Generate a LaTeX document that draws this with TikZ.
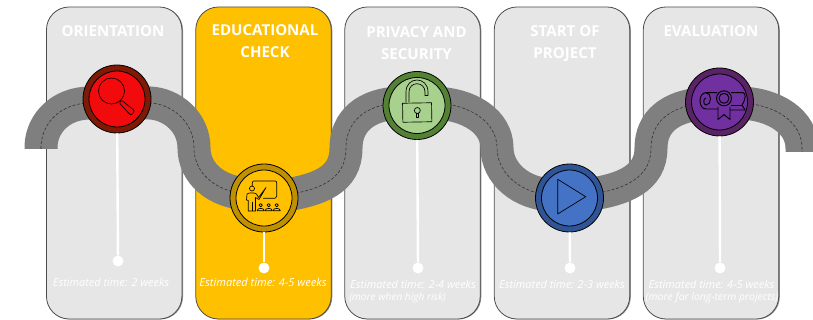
\documentclass[tikz,border=0pt]{standalone}
\usepackage{fontspec}
\setmainfont{Open Sans}
\usetikzlibrary{shadows}
\definecolor{panelgray}{HTML}{E6E6E6}
\definecolor{panelyellow}{HTML}{FFC000}
\definecolor{roadgray}{HTML}{7F7F7F}
\definecolor{ringred}{HTML}{7F1A06}
\definecolor{fillred}{HTML}{F20A0C}
\definecolor{ringyellow}{HTML}{BF9000}
\definecolor{ringgreen}{HTML}{548235}
\definecolor{fillgreen}{HTML}{A9D18E}
\definecolor{ringblue}{HTML}{2F5597}
\definecolor{fillblue}{HTML}{4472C4}
\definecolor{ringpurple}{HTML}{5A2366}
\definecolor{fillpurple}{HTML}{7030A0}
\tikzset{
  panel/.style={rectangle,rounded corners=17pt,minimum width=101.6pt,minimum height=234pt,inner sep=0pt,
    draw=black!70,line width=.6pt,general shadow={fill=black!45,shadow xshift=.8pt,shadow yshift=-.3pt}},
  ring/.style={circle,minimum size=51pt,inner sep=0pt,draw=black,line width=.6pt},
  core/.style={circle,minimum size=42pt,inner sep=0pt,draw=black,line width=.6pt},
  stemdot/.style={circle,fill=white,minimum size=8.2pt,inner sep=0pt},
  stem/.style={draw=white,line width=1.8pt},
  title/.style={text=white,font=\bfseries\fontsize{11.3}{16.4}\selectfont,align=center,inner sep=0pt},
  est/.style={text=white,font=\itshape\fontsize{8.2}{10.5}\selectfont,inner sep=0pt},
  road/.style={draw=roadgray,line width=24.75pt},
  lane/.style={draw=black!80,line width=.45pt,dash pattern=on 2.2pt off 1.4pt},
  icon/.style={draw=black,line width=.5pt,line join=round},
}
\def\roadpath{(41,149) -- (41,146) .. controls (42,122) and (62,103) .. (90,103) -- (150,103)
  .. controls (172,104) and (194,122) .. (194,148)
  .. controls (194,172) and (215,193) .. (250,194) -- (280,196)
  .. controls (320,190) and (346,180) .. (346,148)
  .. controls (346,122) and (365,104) .. (400,103) -- (434,103)
  .. controls (470,104) and (497,122) .. (497,148)
  .. controls (497,172) and (520,195) .. (555,195) -- (585,195)
  .. controls (625,190) and (651,178) .. (651,148)
  .. controls (651,122) and (670,107) .. (700,104) -- (740,103)
  .. controls (775,104) and (802,122) .. (802,148) -- (802,152)}
\begin{document}
\begin{tikzpicture}[x=.75pt,y=-.75pt]
\useasboundingbox (0,0) rectangle (813,320);
\clip (0,0) rectangle (813,320);
% panels
\node[panel,fill=panelgray] (p1) at (114.2,163) {};
\node[panel,fill=panelyellow] (p2) at (263.5,163) {};
\node[panel,fill=panelgray] (p3) at (412.5,163) {};
\node[panel,fill=panelgray] (p4) at (562,163) {};
\node[panel,fill=panelgray] (p5) at (711,163) {};
% titles
\node[title] (t1) at (113,31) {ORIENTATION};
\node[title] (t2) at (265,41) {EDUCATIONAL\\CHECK};
\node[title] (t3) at (416.5,43) {PRIVACY AND\\SECURITY};
\node[title] (t4) at (565,44) {START OF\\PROJECT};
\node[title] (t5) at (711,31) {EVALUATION};
% road
\draw[road] \roadpath;
\draw[lane] \roadpath;
% circles
\node[ring,fill=ringred] (c1) at (117,99) {};
\node[core,fill=fillred] (i1) at (117,99) {};
\node[ring,fill=ringyellow] (c2) at (264,198) {};
\node[core,fill=panelyellow] (i2) at (264,198) {};
\node[ring,fill=ringgreen] (c3) at (417,105.5) {};
\node[core,fill=fillgreen] (i3) at (417,105.5) {};
\node[ring,fill=ringblue] (c4) at (569.5,198) {};
\node[core,fill=fillblue] (i4) at (569.5,198) {};
\node[ring,fill=ringpurple] (c5) at (719.5,102) {};
\node[core,fill=fillpurple] (i5) at (719.5,102) {};
% stems
\node[stemdot] (d1) at (118,261) {};
\node[stemdot] (d2) at (264,268) {};
\node[stemdot] (d3) at (418,268) {};
\node[stemdot] (d4) at (570,268) {};
\node[stemdot] (d5) at (720,268) {};
\foreach \n in {1,...,5} \draw[stem] (c\n) -- (d\n);
% estimates
\node[est] (e1) at (111,282) {Estimated time: 2 weeks};
\node[est,font=\itshape\fontsize{8.3}{10.5}\selectfont] (e2) at (263,282) {Estimated time: 4-5 weeks};
\node[est] (e3) at (413,284) {Estimated time: 2-4 weeks};
\node[est,anchor=west,font=\itshape\fontsize{7.6}{10.5}\selectfont] (f3) at (349,298) {(more when high risk)};
\node[est] (e4) at (562,284) {Estimated time: 2-3 weeks};
\node[est] (e5) at (711.5,284) {Estimated time: 4-5 weeks};
\node[est,font=\itshape\fontsize{7.8}{10.5}\selectfont] (f5) at (712,298) {(more for long-term projects)};
% magnifier
\draw[icon] (111.5,91) circle (13);
\draw[icon,rounded corners=1.6pt] (121.5,100) -- (125,103) -- (135,111) -- (131,115.5) -- (122,106) -- (119,102.5) -- cycle;
% teacher
\draw[icon] (252.3,186) -- (252.3,183) .. controls (252.3,181.5) and (253,181) .. (254,181) -- (275,181) .. controls (276.2,181) and (276.7,181.5) .. (276.7,183) -- (276.7,196.5) .. controls (276.7,197.8) and (276.2,198.3) .. (275,198.3) -- (263,198.3);
\draw[icon] (252,188.5) circle (2.5);
\draw[icon] (248.3,211) -- (248.3,200.5) -- (246.5,200) -- (247,194) .. controls (248,192.5) and (255,192.5) .. (256.5,194) -- (258.5,197.5) -- (266,187.5) -- (259,199.5) -- (255.5,197.5) -- (255.5,211) -- cycle;
\draw[icon] (252,202) -- (252,211);
\foreach \sx in {260.7,268.7,276.7}{
  \draw[icon] (\sx,205.2) circle (1.7);
  \draw[icon] (\sx-3.6,210.7) .. controls (\sx-3.6,207.6) and (\sx+3.6,207.6) .. (\sx+3.6,210.7) -- cycle;
}
% lock
\draw[icon,rotate around={1:(417,112)}] (402.7,103) rectangle (431.7,122);
\draw[icon] (406,102.5) -- (406,92) .. controls (406,76) and (428,76) .. (428,92) -- (428,95.5) -- (425,95.5) -- (425,92) .. controls (425,81) and (409,81) .. (409,92) -- (409,102.5);
\draw[icon] (417.3,110.5) circle (3);
\draw[icon] (416,113) -- (416,117) -- (418.6,117) -- (418.6,113);
% play
\draw[icon] (557.7,179.3) -- (557.7,214) -- (585.7,196.7) -- cycle;
% diploma
\draw[icon,line width=.7pt] (717,92.7) -- (706,92.7) .. controls (698,92.7) and (698,109) .. (706,109) -- (718,109);
\draw[icon,line width=.7pt] (706,92.7) .. controls (712,92.7) and (712,105) .. (706,105) .. controls (703,105) and (703,98) .. (706,98);
\draw[icon,line width=.7pt] (731,92.7) -- (743,92.7) .. controls (746,93) and (746,99) .. (742,105) -- (745,110) -- (730,110);
\draw[icon,line width=.7pt] (731,105) -- (742,105);
\draw[icon,line width=.7pt] (718,107) -- (718,119.5) -- (724,114.5) -- (730,119.5) -- (730,107);
\draw[icon,line width=.7pt,fill=fillpurple] (724,98.3) circle (7.5);
\draw[icon,line width=.7pt] (724,98.3) circle (5);
\end{tikzpicture}
\end{document}
